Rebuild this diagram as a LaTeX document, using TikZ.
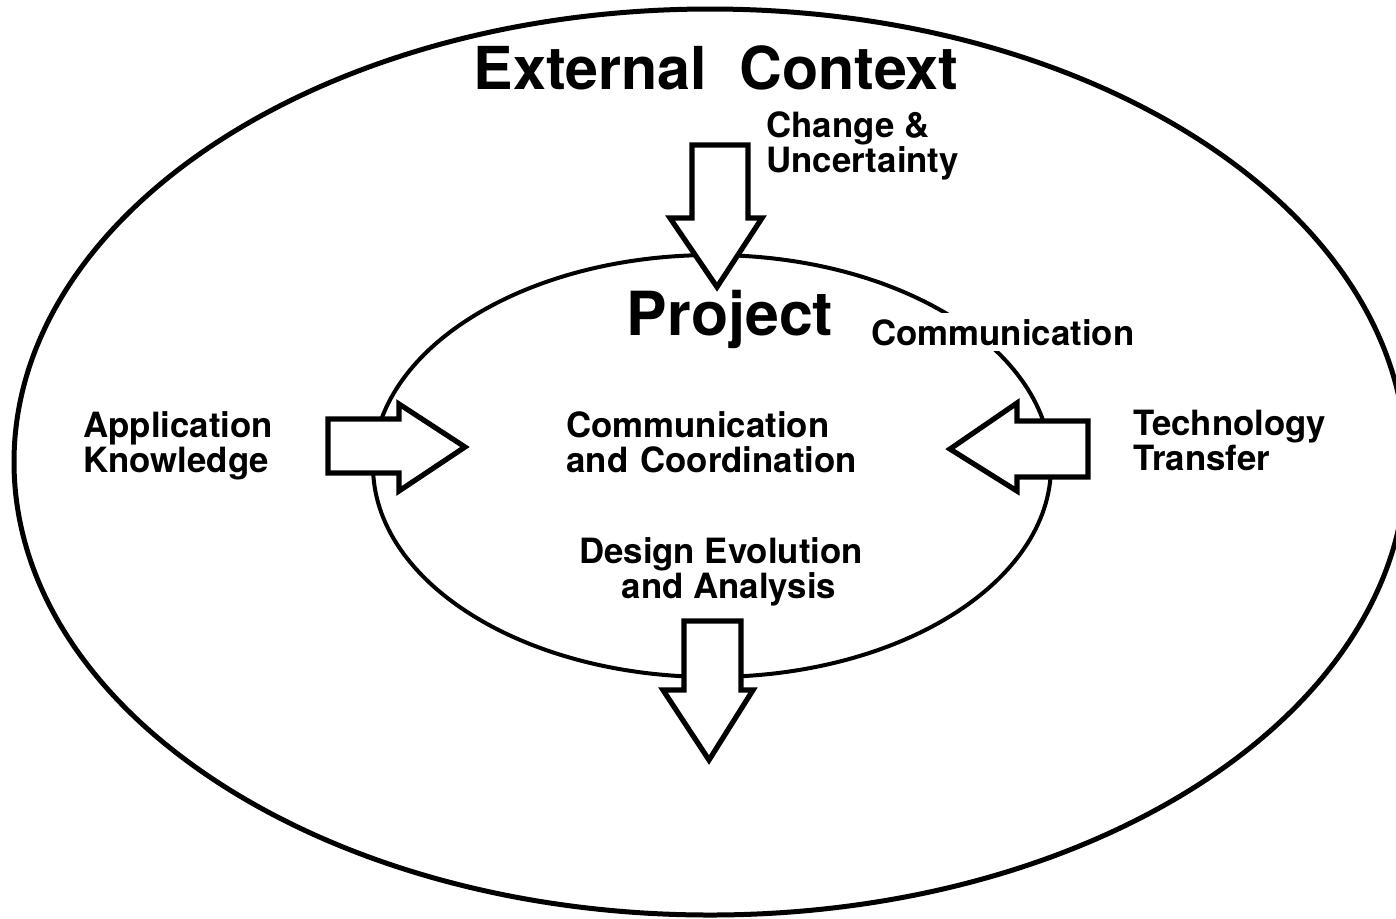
\documentclass[tikz,border=0pt]{standalone}
\usepackage{fontspec}
\setmainfont{TeX Gyre Heros}
\begin{document}
\begin{tikzpicture}[x=0.5pt,y=-0.5pt,
  lbl/.style={font=\bfseries\fontsize{17.4pt}{17.5pt}\selectfont, inner sep=0pt, align=left},
  big/.style={font=\bfseries\fontsize{29.6pt}{30pt}\selectfont, inner sep=0pt},
  ell/.style={draw, line width=2.5pt},
  blockarrow/.style={draw, line width=2.6pt, fill=white, line join=miter, miter limit=10}]
\useasboundingbox (0,0) rectangle (1396,918);
\fill[white] (0,0) rectangle (1396,918);
% ellipses
\draw[ell] (710,462) ellipse [x radius=696, y radius=453];
\draw[ell, line width=2pt] (712,466) ellipse [x radius=339, y radius=211];
% label breaking the inner ellipse
\node[lbl, fill=white, inner sep=3pt, anchor=base west] (comm) at (865,345) {Communication};
% block arrows
\draw[blockarrow] (692,145) -- (748,145) -- (748,218) -- (762,218) -- (717,287) -- (670,218) -- (692,218) -- cycle;
\draw[blockarrow] (684,621) -- (741,621) -- (741,690) -- (753,690) -- (709,760) -- (663,690) -- (684,690) -- cycle;
\draw[blockarrow] (328,419) -- (399,419) -- (399,404) -- (465,447) -- (399,491) -- (399,473) -- (328,473) -- cycle;
\draw[blockarrow] (1088,421) -- (1017,421) -- (1017,403) -- (950,449) -- (1017,491) -- (1017,477) -- (1088,477) -- cycle;
% texts
\node[big, anchor=base] (ext) at (716,89) {External\hspace{0.55em}Context};
\node[big, font=\bfseries\fontsize{30.4pt}{31pt}\selectfont, anchor=base] (proj) at (730,335) {Project};
\node[lbl, anchor=base west] (chg) at (766,172) {Change \&\\Uncertainty};
\node[lbl, anchor=base west] (app) at (83,472) {Application\\Knowledge};
\node[lbl, anchor=base west] (cc) at (566,472) {Communication\\and\hspace{0.35em}Coordination};
\node[lbl, anchor=base west] (tech) at (1133,470) {Technology\\Transfer};
\node[lbl, align=center, anchor=base] (des) at (721,598) {Design Evolution\\\hspace*{8pt}and Analysis};
\end{tikzpicture}
\end{document}
